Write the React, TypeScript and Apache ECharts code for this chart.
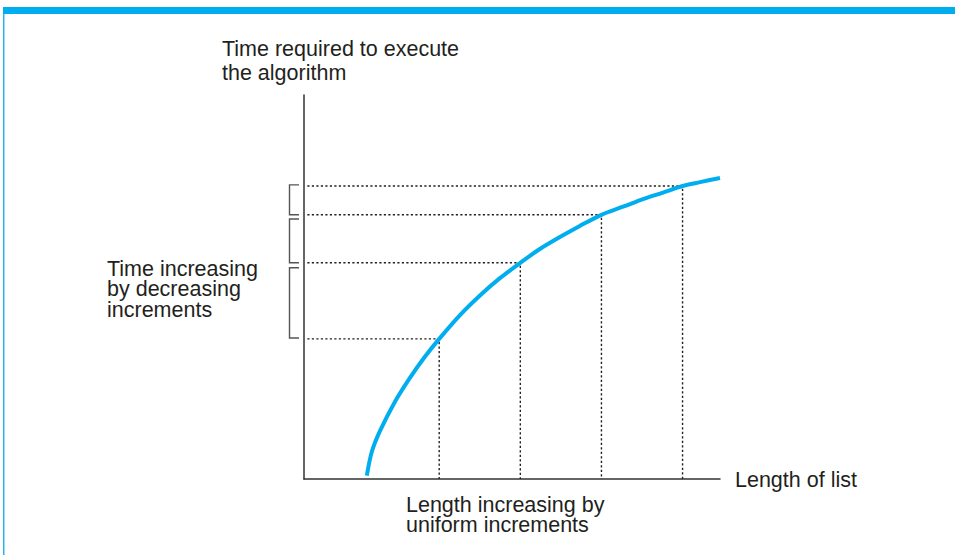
import React, { useEffect, useRef } from "react";
import * as echarts from "echarts";

// Curve: length of list (x) vs time required (y), arbitrary units
const curveX = [15.1, 16.3, 18.3, 21.9, 25.5, 29.1, 32.5, 37.5, 42.3, 47.1, 52, 56.7, 61.5, 66.3, 71.5, 76.7, 81.5, 86.3, 91, 95.2, 100];
const curveY = [0.9, 7.1, 12.6, 20.2, 26.4, 31.9, 36.5, 42.7, 47.8, 52.3, 56.3, 59.9, 63.0, 65.9, 68.8, 70.9, 72.9, 74.6, 76.3, 77.3, 78.4];

// Uniform length increments and the resulting times
const markLengths = [32.5, 52, 71.5, 91];
const markTimes = [36.5, 56.3, 68.8, 76.3];

// Brackets showing time increments [top, bottom]
const bracketRanges = [
  [76.6, 68.8],
  [67.7, 56.3],
  [55.0, 36.7],
];

const yAxisTitle = ["Time required to execute", "the algorithm"];
const leftNote = ["Time increasing", "by decreasing", "increments"];
const bottomNote = ["Length increasing by", "uniform increments"];
const xAxisTitle = "Length of list";

const BLUE = "#00AEEF";
const INK = "#231f20";
const FONT = "'Liberation Sans', Arial, sans-serif";
const FS = 21.5;

function lines(texts: string[], left: number, firstCenter: number, step: number) {
  return texts.map((t, i) => ({
    type: "text",
    left,
    top: firstCenter + i * step - step / 2,
    style: {
      text: t,
      font: `${FS}px ${FONT}`,
      lineHeight: step,
      fill: INK,
    },
  }));
}

export default function App() {
  const ref = useRef<HTMLDivElement>(null);
  useEffect(() => {
    document.body.style.margin = "0";
    if (!ref.current) return;
    const chart = echarts.init(ref.current, undefined, { renderer: "svg" });
    const dotted: any[] = markLengths.map((x, i) => ({
      type: "line",
      data: [
        [0.8, markTimes[i]],
        [x, markTimes[i]],
        [x, 0],
      ],
      symbol: "none",
      silent: true,
      lineStyle: { color: "#222", width: 1.4, type: [2.2, 2.3] },
      z: 1,
    }));
    chart.setOption({
      animation: false,
      backgroundColor: "#fff",
      grid: { left: 304, top: 95, width: 416, height: 384 },
      xAxis: {
        type: "value",
        min: 0,
        max: 100,
        axisLine: { show: true, onZero: false, lineStyle: { color: "#333", width: 1.5 } },
        axisTick: { show: false },
        axisLabel: { show: false },
        splitLine: { show: false },
      },
      yAxis: {
        type: "value",
        min: 0,
        max: 100,
        axisLine: { show: true, onZero: false, lineStyle: { color: "#333", width: 1.5 } },
        axisTick: { show: false },
        axisLabel: { show: false },
        splitLine: { show: false },
      },
      series: [
        ...dotted,
        {
          type: "line",
          data: curveX.map((x, i) => [x, curveY[i]]),
          smooth: 0.3,
          symbol: "none",
          silent: true,
          lineStyle: { color: BLUE, width: 4, cap: "butt" },
          z: 3,
        },
        {
          type: "custom",
          data: bracketRanges,
          silent: true,
          clip: false,
          renderItem: (params: any, api: any) => {
            const top = api.coord([0, api.value(0)]);
            const bot = api.coord([0, api.value(1)]);
            const x0 = top[0];
            return {
              type: "polyline",
              shape: {
                points: [
                  [x0 - 5, top[1]],
                  [x0 - 14.5, top[1]],
                  [x0 - 14.5, bot[1]],
                  [x0 - 5, bot[1]],
                ],
              },
              style: { stroke: "#555", fill: "none", lineWidth: 1.4 },
            };
          },
          z: 2,
        },
      ],
      graphic: [
        { type: "rect", shape: { x: 3, y: 7, width: 952, height: 7 }, style: { fill: BLUE } },
        { type: "rect", shape: { x: 3, y: 14, width: 1.5, height: 541 }, style: { fill: "#29B6EE" } },
        ...lines(yAxisTitle, 222, 48.5, 24.5),
        ...lines(leftNote, 107, 268, 20.5),
        ...lines(bottomNote, 406, 503.5, 20),
        ...lines([xAxisTitle], 735, 480, 22),
      ],
    });
    return () => chart.dispose();
  }, []);
  return <div ref={ref} style={{ width: 955, height: 555 }} />;
}
